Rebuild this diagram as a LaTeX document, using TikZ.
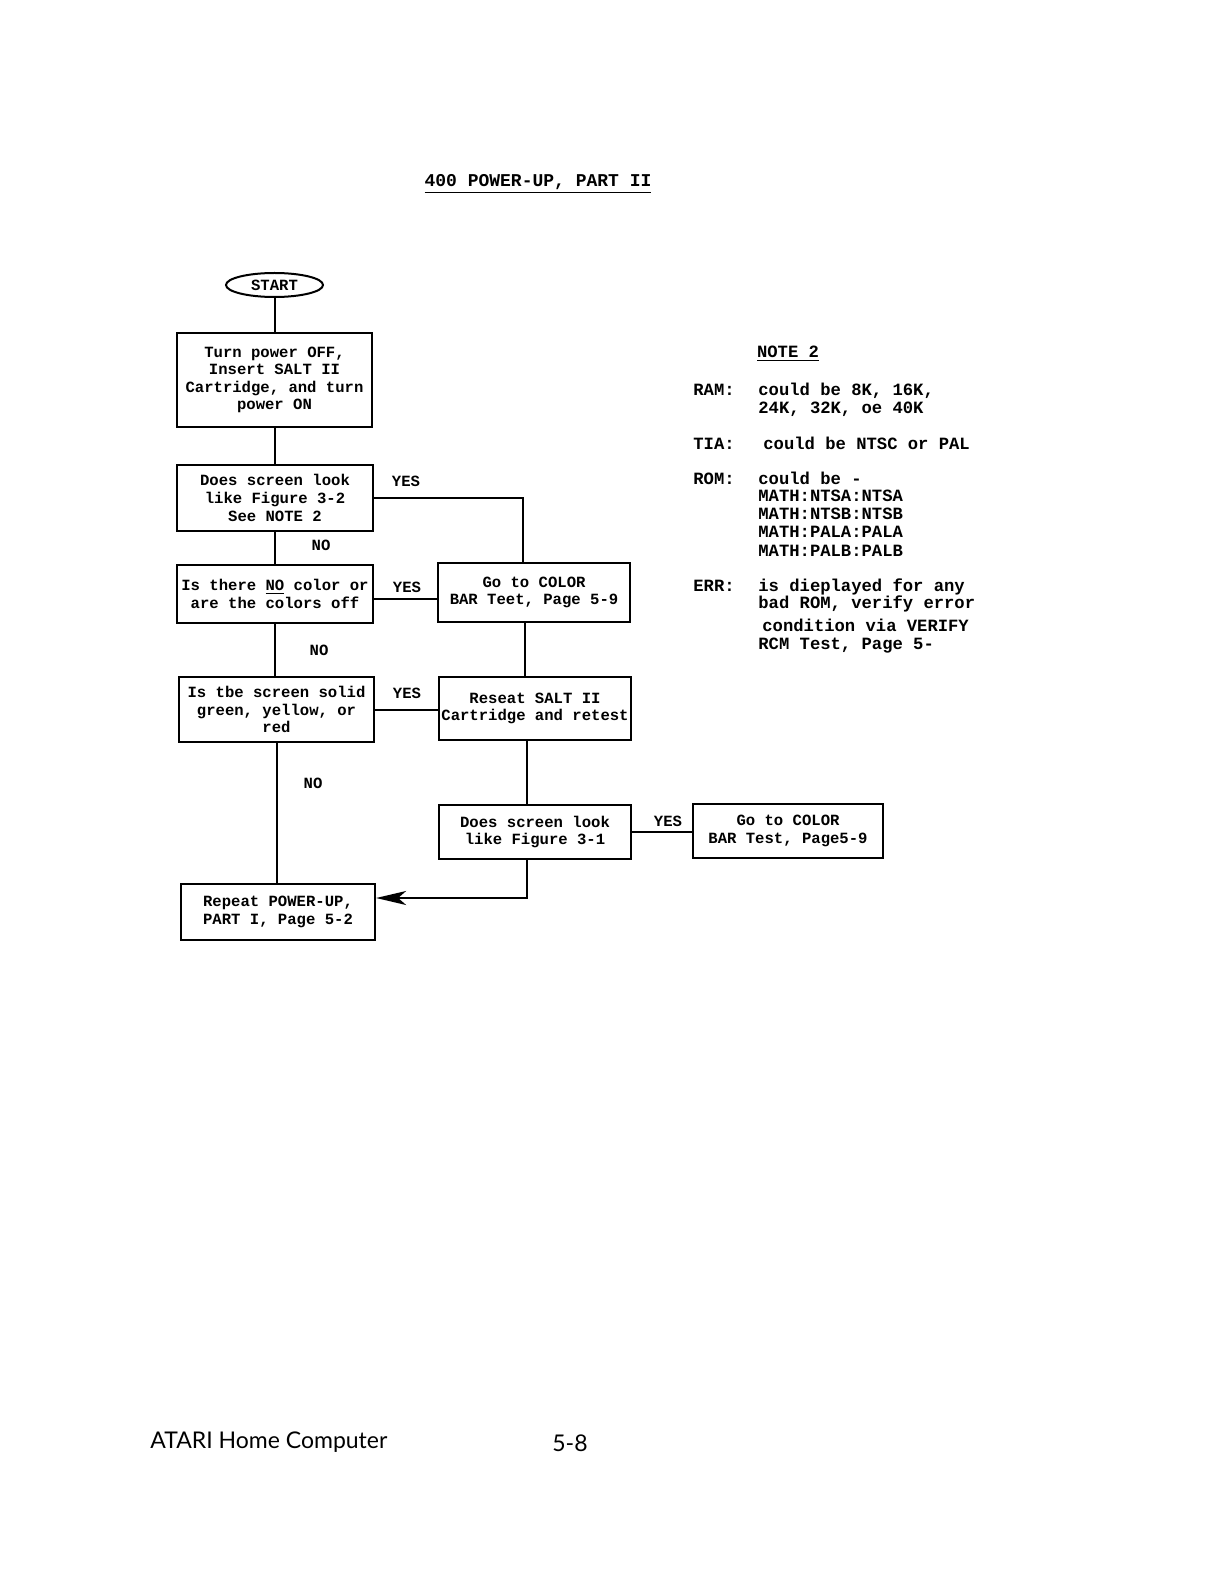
\documentclass[tikz,border=0pt]{standalone}
\usepackage{fontspec}
\setmonofont{Liberation Mono}
\newfontfamily\footfont{Lato}
\usetikzlibrary{arrows.meta,positioning,shapes.geometric,calc}
\newcommand{\boxfont}{\ttfamily\bfseries\fontsize{7.8}{8.8}\selectfont}
\newcommand{\notefont}{\ttfamily\bfseries\fontsize{8.6}{8.8}\selectfont}
\tikzset{
  % flowchart boxes
  fbox/.style={
    rectangle, draw, line width=1.1pt,
    align=center, inner sep=2pt,
    font=\boxfont
  },
  term/.style={
    ellipse, draw, line width=1pt,
    minimum width=48.5pt, minimum height=12pt,
    inner sep=0pt, font=\boxfont
  },
  % connectors
  conn/.style={line width=1pt},
  arr/.style={conn, -{Stealth[length=15pt,width=7pt,inset=4pt]}},
  % YES / NO labels
  lbl/.style={font=\boxfont, inner sep=0pt},
  % note lines
  notetxt/.style={anchor=base west, inner sep=0pt, font=\notefont},
}

\begin{document}
\begin{tikzpicture}[x=0.5pt,y=-0.5pt]
  \useasboundingbox (0,0) rectangle (1224,1582);

  % heading
  \node[font=\ttfamily\bfseries\fontsize{9}{10}\selectfont, inner sep=0pt] (title) at (538,184)
    {\underline{400 POWER-UP, PART II}};

  % left column
  \node[term] (start) at (274.5,285) {START};
  \node[fbox, minimum width=97.5pt, minimum height=47pt] (turnoff) at (274.5,380)
    {Turn power OFF,\\Insert SALT II\\Cartridge, and turn\\power ON};
  \node[fbox, minimum width=98pt, minimum height=33pt] (look32) at (275,498)
    {Does screen look\\like Figure 3-2\\See NOTE 2};
  \node[fbox, minimum width=98pt, minimum height=29pt] (nocolor) at (275,594)
    {Is there \underline{NO} color or\\are the colors off};
  \node[fbox, minimum width=97.5pt, minimum height=32.5pt] (solid) at (276.5,709.5)
    {Is tbe screen solid\\green, yellow, or\\red};
  \node[fbox, minimum width=97pt, minimum height=28pt] (repeat) at (278,912)
    {Repeat POWER-UP,\\PART I, Page 5-2};

  % right column
  \node[fbox, minimum width=96pt, minimum height=29.5pt] (colorbar) at (534,592.5)
    {Go to COLOR\\BAR Teet, Page 5-9};
  \node[fbox, minimum width=96pt, minimum height=31.5pt, inner xsep=0pt] (reseat) at (535,708.5)
    {Reseat SALT II\\Cartridge and retest};
  \node[fbox, minimum width=96pt, minimum height=27pt] (look31) at (535,832)
    {Does screen look\\like Figure 3-1};
  \node[fbox, minimum width=95pt, minimum height=27pt] (colorbarb) at (788,831)
    {Go to COLOR\\BAR Test, Page5-9};

  % connectors
  \draw[conn] (start) -- (turnoff);
  \draw[conn] (turnoff.south) -- (turnoff.south |- look32.north);
  \draw[conn] (look32.south) -- (look32.south |- nocolor.north);
  \draw[conn] (nocolor.south) -- (nocolor.south |- solid.north);
  \draw[conn] (solid.south) -- (solid.south |- repeat.north);
  \draw[conn] (look32.east) -| ([xshift=-5.5pt]colorbar.north);
  \draw[conn] ([yshift=-2.5pt]nocolor.east) -- ([yshift=-2.5pt]nocolor.east -| colorbar.west);
  \draw[conn] ([xshift=-4.5pt]colorbar.south) -- ([xshift=-4.5pt]colorbar.south |- reseat.north);
  \draw[conn] (solid.east) -- (solid.east -| reseat.west);
  \draw[conn] ([xshift=-4pt]reseat.south) -- ([xshift=-4pt]reseat.south |- look31.north);
  \draw[conn] (look31.east) -- (look31.east -| colorbarb.west);
  \draw[arr] ([xshift=-4pt]look31.south) |- ([yshift=7pt]repeat.east);

  % labels
  \node[lbl] (yes1) at (406,481) {YES};
  \node[lbl] (no1) at (321,545) {NO};
  \node[lbl] (yes2) at (407,587) {YES};
  \node[lbl] (no2) at (319,650) {NO};
  \node[lbl] (yes3) at (407,693) {YES};
  \node[lbl] (no3) at (313,783) {NO};
  \node[lbl] (yes4) at (668,821) {YES};

  % note 2
  \node[font=\notefont, inner sep=0pt] (note) at (788,354) {\underline{NOTE 2}};
  \foreach \yy/\key in {396/RAM:, 450/TIA:, 485/ROM:, 591/ERR:}
    \node[notetxt] at (693,\yy) {\key};
  \foreach \xx/\yy/\txt in {758/396/{could be 8K, 16K,}, 758/414/{24K, 32K, oe 40K},
      763/450/{could be NTSC or PAL},
      758/485/{could be -}, 758/502/{MATH:NTSA:NTSA}, 758/520/{MATH:NTSB:NTSB},
      758/538/{MATH:PALA:PALA}, 758/556/{MATH:PALB:PALB},
      758/591/{is dieplayed for any}, 758/608/{bad ROM, verify error},
      762/631/{condition via VERIFY}, 758/649/{RCM Test, Page 5-}}
    \node[notetxt] at (\xx,\yy) {\txt};

  % footer
  \node[font=\footfont\fontsize{11.5}{12}\selectfont, anchor=west, inner sep=0pt] (foot) at (150,1442)
    {ATARI Home Computer};
  \node[font=\footfont\fontsize{11.5}{12}\selectfont, inner sep=0pt] (pageno) at (570,1443) {5-8};
\end{tikzpicture}
\end{document}
